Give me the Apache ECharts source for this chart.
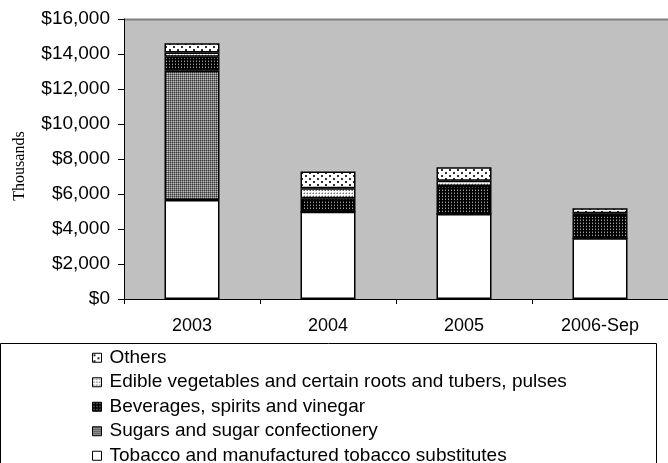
<!DOCTYPE html>
<html>
<head>
<meta charset="utf-8">
<script src="https://cdn.jsdelivr.net/npm/echarts@6/dist/echarts.min.js"></script>
<style>
  html, body { margin: 0; padding: 0; background: #fff; }
  #chart { width: 668px; height: 463px; }
</style>
</head>
<body>
<div id="chart"></div>
<script>
// values in thousands of dollars
var categories = ['2003', '2004', '2005', '2006-Sep'];
var seriesNames = [
    'Tobacco and manufactured tobacco substitutes',
    'Sugars and sugar confectionery',
    'Beverages, spirits and vinegar',
    'Edible vegetables and certain roots and tubers, pulses',
    'Others'
];
var tobacco = [5660, 4990, 4860, 3470];
var sugars = [7390, 0, 0, 0];
var beverages = [800, 770, 1600, 1330];
var edible = [230, 570, 300, 100];
var others = [540, 950, 770, 290];

// small repeating tiles, like the old excel fill patterns
function makePattern(w, h, bg, dots) {
    var c = document.createElement('canvas');
    c.width = w;
    c.height = h;
    var ctx = c.getContext('2d');
    ctx.fillStyle = bg;
    ctx.fillRect(0, 0, w, h);
    dots.forEach(function (d) {
        ctx.fillStyle = d[2];
        ctx.fillRect(d[0], d[1], d[3] || 1, d[4] || 1);
    });
    return { image: c, repeat: 'repeat' };
}

var fills = [
    '#ffffff',
    makePattern(2, 2, '#787878', [[0, 0, '#383838'], [1, 1, '#c0c0c0']]),
    makePattern(3, 3, '#000000', [[1, 1, '#a0a0a0'], [1, 0, '#404040']]),
    makePattern(3, 3, '#ffffff', [[1, 1, '#707070'], [0, 1, '#b0b0b0'], [1, 0, '#c0c0c0']]),
    makePattern(8, 6, '#ffffff', [[1, 1, '#303030', 2, 2], [5, 4, '#303030', 2, 2]])
];
var values = [tobacco, sugars, beverages, edible, others];

var chart = echarts.init(document.getElementById('chart'));

var series = seriesNames.map(function (name, i) {
    return {
        name: name,
        type: 'bar',
        stack: 'total',
        barWidth: 55,
        data: values[i],
        itemStyle: {
            color: fills[i],
            borderColor: '#000',
            borderWidth: 1.5
        }
    };
});

var option = {
    animation: false,
    backgroundColor: '#ffffff',
    grid: {
        left: 124,
        top: 19,
        width: 546,
        height: 280,
        show: true,
        backgroundColor: '#c0c0c0',
        borderWidth: 0
    },
    xAxis: {
        type: 'category',
        data: categories,
        axisLine: { lineStyle: { color: '#000', width: 1 } },
        axisTick: { show: true, length: 5, lineStyle: { color: '#000' } },
        axisLabel: {
            color: '#000',
            fontSize: 18,
            fontFamily: '"Liberation Sans", Arial, sans-serif',
            margin: 18
        }
    },
    yAxis: {
        type: 'value',
        min: 0,
        max: 16000,
        interval: 2000,
        splitLine: { show: false },
        axisLine: { show: true, lineStyle: { color: '#000', width: 1 } },
        axisTick: { show: true, length: 6, lineStyle: { color: '#000' } },
        axisLabel: {
            color: '#000',
            fontSize: 19,
            fontFamily: '"Liberation Sans", Arial, sans-serif',
            margin: 14,
            formatter: function (v) {
                return '$' + v.toLocaleString('en-US');
            }
        }
    },
    legend: {
        orient: 'vertical',
        left: 87,
        top: 343,
        height: 200,
        itemWidth: 9,
        itemHeight: 9,
        itemGap: 5,
        icon: 'rect',
        data: seriesNames.slice().reverse(),
        itemStyle: { borderColor: '#000', borderWidth: 1 },
        textStyle: {
            color: '#000',
            fontSize: 19,
            lineHeight: 19.5,
            padding: [0, 0, 0, 3],
            fontFamily: '"Liberation Sans", Arial, sans-serif'
        }
    },
    graphic: [
        {
            type: 'line',
            shape: { x1: 124, y1: 19.5, x2: 668, y2: 19.5 },
            style: { stroke: '#808080', lineWidth: 2 }
        },
        {
            type: 'rect',
            shape: { x: 0.5, y: 343.5, width: 656, height: 130 },
            style: { fill: 'none', stroke: '#000', lineWidth: 1 }
        },
        {
            type: 'text',
            x: 20,
            y: 166,
            rotation: Math.PI / 2,
            style: {
                text: 'Thousands',
                fill: '#000',
                font: '16px "Liberation Serif", "Times New Roman", serif',
                textAlign: 'center',
                textVerticalAlign: 'middle'
            }
        }
    ],
    series: series
};

chart.setOption(option);
</script>
</body>
</html>
